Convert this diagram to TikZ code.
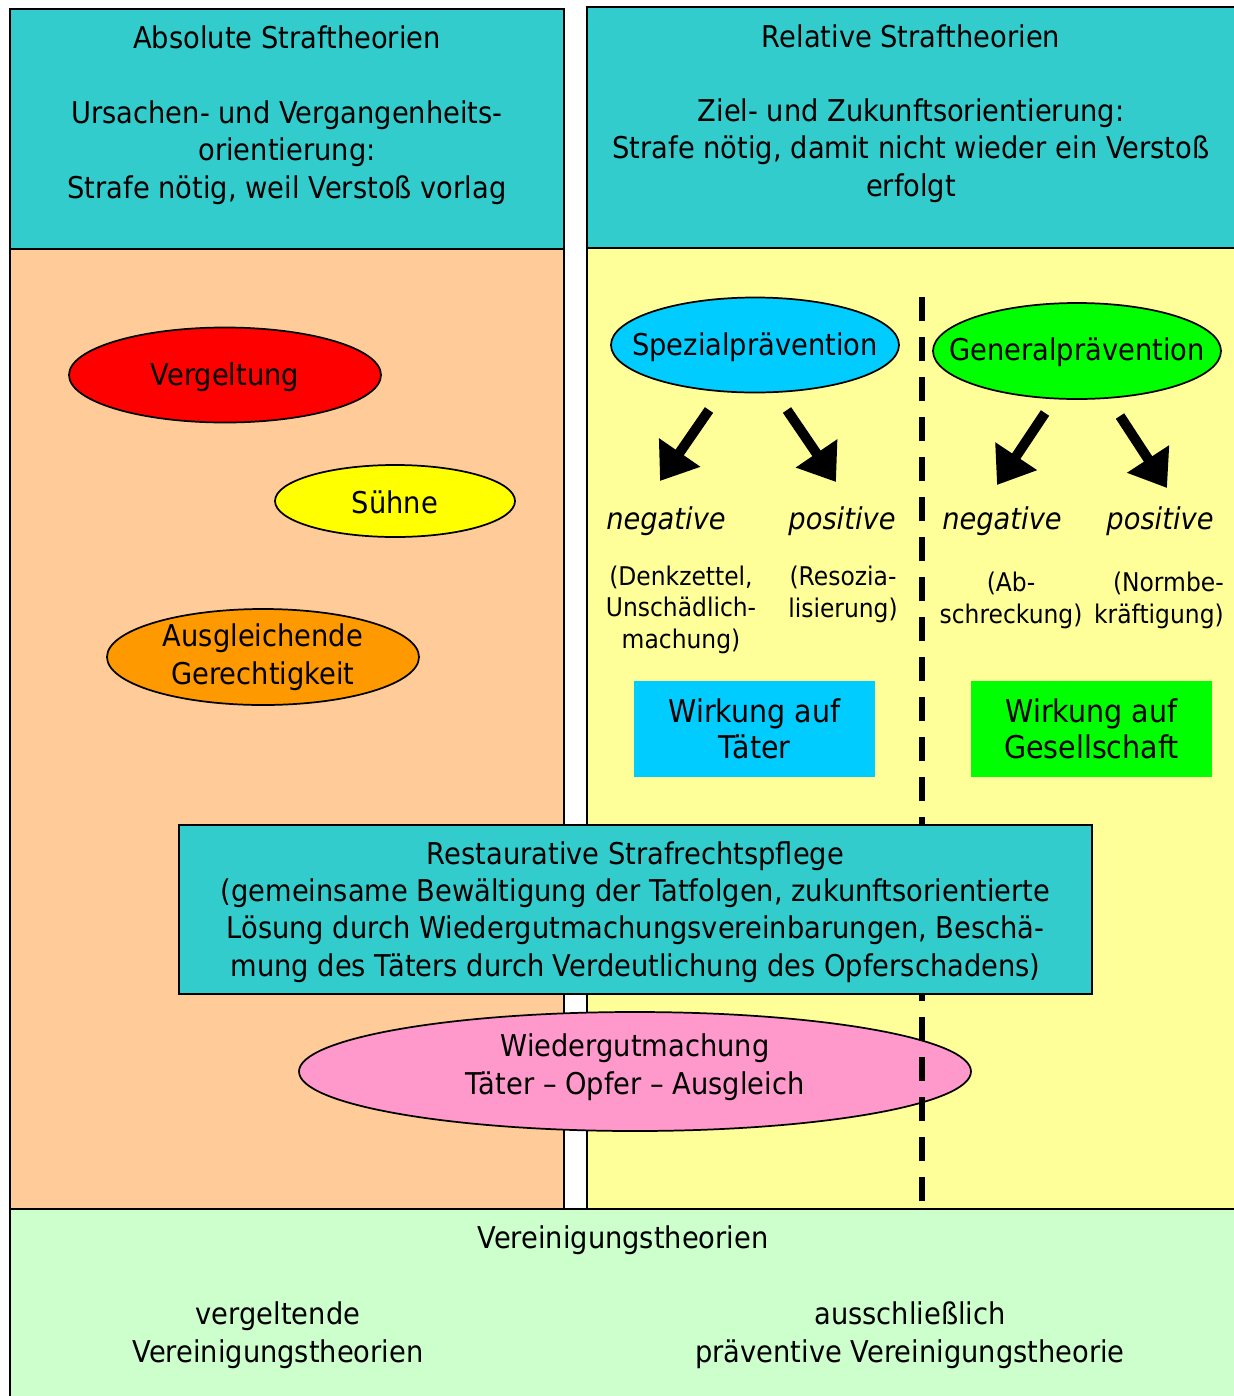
\documentclass[tikz,border=0pt]{standalone}
\usepackage{fontspec}
\setmainfont{DejaVu Sans}[FakeStretch=0.91]
\usetikzlibrary{shapes.geometric,arrows.meta}
\definecolor{tealc}{HTML}{33CCCC}
\definecolor{peach}{HTML}{FFCC99}
\definecolor{lyellow}{HTML}{FFFF99}
\definecolor{lgreen}{HTML}{CCFFCC}
\definecolor{redc}{HTML}{FF0000}
\definecolor{yellowc}{HTML}{FFFF00}
\definecolor{orangec}{HTML}{FF9900}
\definecolor{cyanc}{HTML}{00CCFF}
\definecolor{greenc}{HTML}{00FF00}
\definecolor{pinkc}{HTML}{FF99CC}
\newcommand\fmain{\fontsize{22.5}{28.1}\selectfont}
\newcommand\fsmall{\fontsize{19.3}{23.3}\selectfont}
\newcommand\fwbox{\fontsize{23.5}{27}\selectfont}
\begin{document}
\begin{tikzpicture}[x=0.75pt,y=-0.75pt,
  txt/.style={inner sep=0pt, align=center, font=\fmain},
  smalltxt/.style={inner sep=0pt, align=center, font=\fsmall},
  region/.style={draw=black, line width=1.5pt},
  elly/.style={ellipse, draw=black, line width=1.3pt, inner sep=0pt},
  blockarrow/.style={line width=7.5pt, -{Triangle[length=26pt,width=36pt]}},
  wbox/.style={rectangle, inner sep=0pt, align=center, font=\fwbox}
]
\useasboundingbox (0,0) rectangle (1234,1396);
\fill[white] (0,0) rectangle (1234,1396);

% regions
\draw[region, fill=peach] (10,249) rectangle (564,1209);
\draw[region, fill=tealc] (10,9) rectangle (564,249);
\draw[region, fill=lyellow] (587,248) rectangle (1245,1209);
\draw[region, fill=tealc] (587,7) rectangle (1245,248);
\draw[region, fill=lgreen] (10,1209) rectangle (1245,1405);

% headers (anchor=base = baseline of last line)
\node[txt, anchor=base] (absT) at (287,48) {Absolute Straftheorien};
\node[txt, anchor=base] (absB) at (287,198) {Ursachen- und Vergangenheits-\\orientierung:\\Strafe nötig, weil Verstoß vorlag};
\node[txt, anchor=base] (relT) at (911,47) {Relative Straftheorien};
\node[txt, anchor=base] (relB) at (911,196) {Ziel- und Zukunftsorientierung:\\Strafe nötig, damit nicht wieder ein Verstoß\\erfolgt};

% left ellipses
\node[elly, fill=redc, minimum width=312*0.75pt, minimum height=95*0.75pt] (verg) at (225,375) {};
\node[txt, yshift=-2pt] (vergT) at (verg.center) {Vergeltung};
\node[elly, fill=yellowc, minimum width=240*0.75pt, minimum height=72*0.75pt] (suehne) at (395,501) {};
\node[txt, yshift=-1pt] (suehneT) at (suehne.center) {Sühne};
\node[elly, fill=orangec, minimum width=312*0.75pt, minimum height=96*0.75pt] (ausg) at (263,657) {};
\node[txt, font=\fontsize{22.5}{28.5}\selectfont] (ausgT) at (ausg.center) {Ausgleichende\\Gerechtigkeit};

% right ellipses
\node[elly, fill=cyanc, minimum width=288*0.75pt, minimum height=95*0.75pt] (spez) at (755,345) {};
\node[txt, yshift=-2pt] (spezT) at (spez.center) {Spezialprävention};
\node[elly, fill=greenc, minimum width=288*0.75pt, minimum height=96*0.75pt] (gen) at (1077,351) {};
\node[txt, yshift=-1pt] (genT) at (gen.center) {Generalprävention};

% arrows
\coordinate (a1s) at (709,410); \coordinate (a1e) at (660,481);
\coordinate (a2s) at (787,410); \coordinate (a2e) at (836,482);
\coordinate (a3s) at (1045,413); \coordinate (a3e) at (997,485);
\coordinate (a4s) at (1120,416); \coordinate (a4e) at (1167,488);
\draw[blockarrow] (a1s) -- (a1e);
\draw[blockarrow] (a2s) -- (a2e);
\draw[blockarrow] (a3s) -- (a3e);
\draw[blockarrow] (a4s) -- (a4e);

% negative / positive
\node[txt, anchor=base, font=\fmain\itshape] (neg1) at (666,529) {negative};
\node[txt, anchor=base, font=\fmain\itshape] (pos1) at (842,529) {positive};
\node[txt, anchor=base, font=\fmain\itshape] (neg2) at (1002,529) {negative};
\node[txt, anchor=base, font=\fmain\itshape] (pos2) at (1160,529) {positive};

\node[smalltxt, anchor=base] (d1) at (681,648) {(Denkzettel,\\Unschädlich-\\machung)};
\node[smalltxt, anchor=base] (d2) at (843,617) {(Resozia-\\lisierung)};
\node[smalltxt, anchor=base] (d3) at (1011,623) {(Ab-\\schreckung)};
\node[smalltxt, anchor=base east, align=right] (d4) at (1224,623) {(Normbe-\\kräftigung)};

% Wirkung boxes
\node[wbox, fill=cyanc, minimum width=241*0.75pt, minimum height=96*0.75pt] (wt) at (754.5,729) {Wirkung auf\\Täter};
\node[wbox, fill=greenc, minimum width=241*0.75pt, minimum height=96*0.75pt] (wg) at (1091.5,729) {Wirkung auf\\Gesellschaft};

% Wiedergutmachung ellipse
\node[elly, fill=pinkc, minimum width=672*0.75pt, minimum height=119*0.75pt] (wgm) at (635,1071.5) {};
\node[txt, font=\fontsize{22.5}{28.5}\selectfont, yshift=3pt] (wgmT) at (wgm.center) {Wiedergutmachung\\Täter – Opfer – Ausgleich};

% dashed separator
\coordinate (dtop) at (922,297);
\coordinate (dbot) at (922,1209);
\draw[line width=4.4pt, dash pattern=on 18pt off 12pt] (dtop) -- (dbot);

% Restaurative box
\node[draw=black, line width=1.5pt, fill=tealc, minimum width=913*0.75pt, minimum height=169*0.75pt, inner sep=0pt] (rest) at (635.5,909.5) {};
\node[txt, font=\fontsize{22.5}{27.8}\selectfont, yshift=-2pt] (restT) at (rest.center) {Restaurative Strafrechtspflege\\(gemeinsame Bewältigung der Tatfolgen, zukunftsorientierte\\Lösung durch Wiedergutmachungsvereinbarungen, Beschä-\\mung des Täters durch Verdeutlichung des Opferschadens)};

% bottom
\node[txt, anchor=base] (verT) at (623,1248) {Vereinigungstheorien};
\node[txt, anchor=base] (verL) at (278,1362) {vergeltende\\Vereinigungstheorien};
\node[txt, anchor=base] (verR) at (910,1362) {ausschließlich\\präventive Vereinigungstheorie};
\end{tikzpicture}
\end{document}
